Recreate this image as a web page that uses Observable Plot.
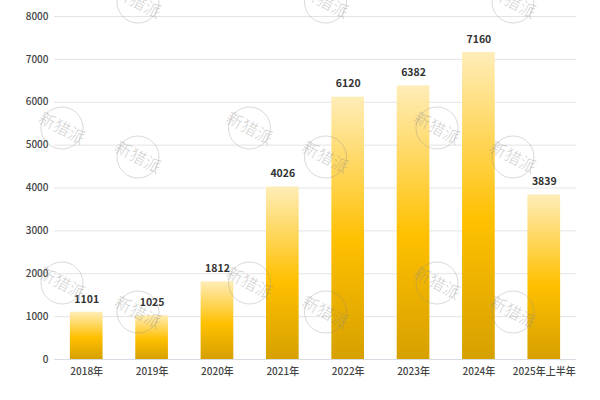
<!DOCTYPE html>
<html>
<head>
<meta charset="utf-8">
<script src="https://cdn.jsdelivr.net/npm/d3@7"></script>
<script src="https://cdn.jsdelivr.net/npm/@observablehq/plot@0.6"></script>
<style>
html,body{margin:0;padding:0;background:#fff}
svg{display:block}
</style>
</head>
<body>
<div id="chart"></div>
<script>
const categories = ["2018年","2019年","2020年","2021年","2022年","2023年","2024年","2025年上半年"];
const values = [1101,1025,1812,4026,6120,6382,7160,3839];
const yTicks = [0,1000,2000,3000,4000,5000,6000,7000,8000];
const watermarkText = "新猎派";
const font = "'Noto Sans CJK SC','Noto Sans',sans-serif";
const table = categories.map((c,i)=>({c,v:values[i]}));

const gradient = () => {
  const defs = d3.create("svg:defs");
  const g = defs.append("linearGradient").attr("id","barGrad").attr("x1",0).attr("y1",0).attr("x2",0).attr("y2",1);
  [["0%","#FFEDB8"],["55%","#FFC000"],["100%","#D6A000"]].forEach(([o,c])=>g.append("stop").attr("offset",o).attr("stop-color",c));
  return defs.node();
};

// Repeating background watermark (decoration, not data)
const watermark = () => {
  const root = d3.create("svg:g").attr("fill","none");
  const pitchX = 187.5, pitchY = 155;
  for (let k = 0; k < 3; k++) for (let j = 0; j < 3; j++) {
    [[62,-27],[138,2]].forEach(([cx,cy])=>{
      const y = cy + j*pitchY;
      if (y < 0) return;
      const t = root.append("g").attr("transform",`translate(${cx+k*pitchX},${y})`);
      t.append("circle").attr("r",21).attr("stroke","#8c8c8c").attr("stroke-opacity",0.33).attr("stroke-width",1);
      t.append("text").attr("transform","rotate(28)").attr("text-anchor","middle").attr("dy","0.36em")
       .attr("font-size",16.5).attr("font-weight",300).attr("font-family",font)
       .attr("fill","#8c8c8c").attr("fill-opacity",0.42).text(watermarkText);
    });
  }
  return root.node();
};

const chart = Plot.plot({
  width:600, height:400,
  marginLeft:54, marginRight:24, marginTop:16, marginBottom:41,
  style:{fontFamily:font, background:"#fff"},
  x:{domain:categories, paddingInner:0.5, paddingOuter:0.243, round:false, label:null},
  y:{domain:[0,8000], label:null, ticks:yTicks},
  marks:[
    gradient,
    Plot.gridY(yTicks.slice(1),{stroke:"#e4e4e4",strokeOpacity:1}),
    Plot.ruleY([0],{stroke:"#d8dbe2"}),
    Plot.barY(table,{x:"c",y:"v",fill:"url(#barGrad)"}),
    Plot.text(table,{x:"c",y:"v",text:d=>String(d.v),dy:-13,fill:"#333",fontSize:10.5,fontWeight:600}),
    Plot.axisX({fontSize:10,fill:"#444",tickSize:0,tickPadding:8.5,label:null,fontWeight:500}),
    Plot.axisY(yTicks,{fontSize:10,fill:"#444",tickSize:0,tickPadding:6,label:null,tickFormat:d=>String(d),fontWeight:500}),
    watermark
  ]
});
document.getElementById("chart").append(chart);
</script>
</body>
</html>
